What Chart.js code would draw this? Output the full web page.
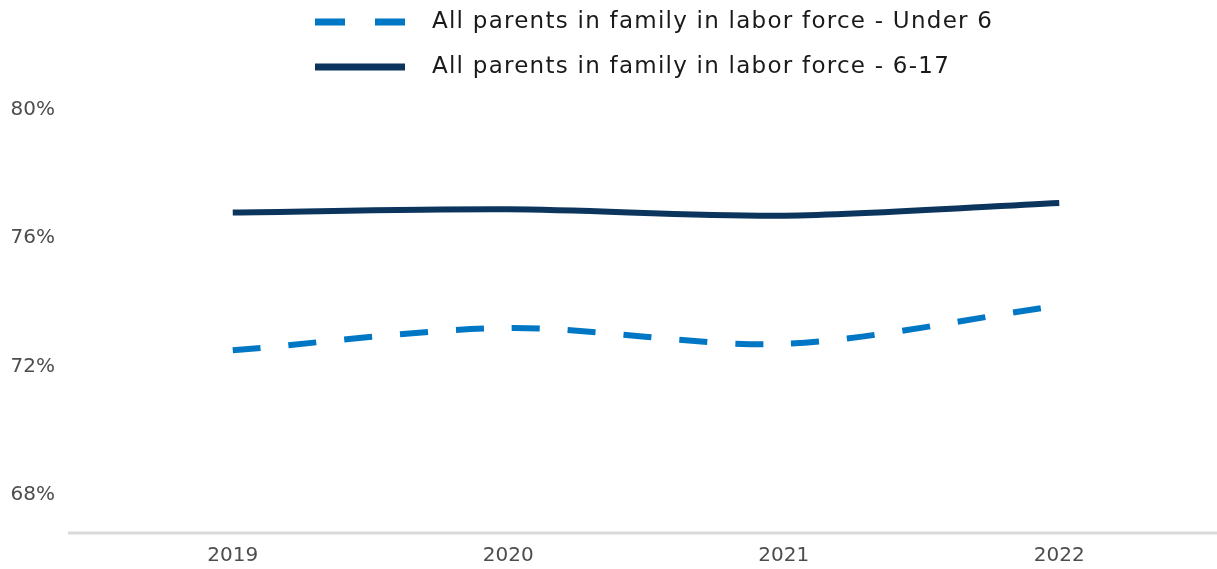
<!DOCTYPE html>
<html>
<head>
<meta charset="utf-8">
<script src="https://cdn.jsdelivr.net/npm/chart.js@4"></script>
<style>
  html, body { margin: 0; padding: 0; background: #ffffff; overflow: hidden; }
  #c { display: block; width: 1217px; height: 569px; }
</style>
</head>
<body>
<canvas id="c" width="1217" height="569"></canvas>
<script>
const categories = ["2019", "2020", "2021", "2022"];
const under6Values = [72.5, 73.2, 72.7, 73.9];
const age6to17Values = [76.8, 76.9, 76.7, 77.1];
const yTickValues = [68, 72, 76, 80];
const seriesLabels = [
  "All parents in family in labor force - Under 6",
  "All parents in family in labor force - 6-17"
];

const FONT = "'DejaVu Sans', sans-serif";

const customLegend = {
  id: "customLegend",
  afterDraw(chart) {
    const ctx = chart.ctx;
    const rows = [22, 67];
    ctx.save();
    chart.data.datasets.forEach((ds, i) => {
      const y = rows[i];
      ctx.beginPath();
      ctx.strokeStyle = ds.borderColor;
      ctx.lineWidth = 7;
      ctx.lineCap = "butt";
      ctx.setLineDash(ds.borderDash && ds.borderDash.length ? [30, 30] : []);
      ctx.moveTo(315, y);
      ctx.lineTo(405, y);
      ctx.stroke();
      ctx.setLineDash([]);
      ctx.fillStyle = "#1a1a1a";
      ctx.font = "23px " + FONT;
      if ("letterSpacing" in ctx) ctx.letterSpacing = "1.25px";
      ctx.textBaseline = "middle";
      ctx.textAlign = "left";
      ctx.fillText(ds.label, 432, y);
      if ("letterSpacing" in ctx) ctx.letterSpacing = "0px";
    });
    ctx.restore();
  }
};

const baseLine = {
  id: "baseLine",
  beforeDatasetsDraw(chart) {
    const ctx = chart.ctx;
    const y = chart.chartArea.bottom;
    ctx.save();
    ctx.beginPath();
    ctx.strokeStyle = "#d9d9d9";
    ctx.lineWidth = 3;
    ctx.moveTo(68, y);
    ctx.lineTo(chart.width, y);
    ctx.stroke();
    ctx.restore();
  }
};

new Chart(document.getElementById("c"), {
  type: "line",
  data: {
    labels: categories,
    datasets: [
      {
        label: seriesLabels[0],
        data: under6Values,
        borderColor: "#0077c4",
        borderWidth: 6,
        borderDash: [28, 28],
        pointRadius: 0,
        tension: 0.3,
        fill: false
      },
      {
        label: seriesLabels[1],
        data: age6to17Values,
        borderColor: "#0c355e",
        borderWidth: 6,
        borderDash: [],
        pointRadius: 0,
        tension: 0.3,
        fill: false
      }
    ]
  },
  options: {
    responsive: false,
    maintainAspectRatio: false,
    devicePixelRatio: 1,
    animation: false,
    layout: { padding: { top: 110, left: 8, right: 20, bottom: 0 } },
    plugins: {
      legend: { display: false },
      tooltip: { enabled: false }
    },
    scales: {
      x: {
        offset: true,
        grid: { display: false, drawTicks: false },
        border: { display: false },
        afterFit(scale) { scale.height = 36; },
        ticks: {
          padding: 11,
          color: "#4d4d4d",
          font: { family: FONT, size: 20 }
        }
      },
      y: {
        min: 66.8,
        max: 80,
        grid: { display: false, drawTicks: false },
        border: { display: false },
        afterBuildTicks(scale) {
          scale.ticks = yTickValues.map(v => ({ value: v }));
        },
        afterFit(scale) {
          scale.width = 87;
          scale.paddingTop = 0;
          scale.paddingBottom = 0;
        },
        ticks: {
          padding: 40,
          color: "#4d4d4d",
          font: { family: FONT, size: 20 },
          callback: v => v + "%"
        }
      }
    }
  },
  plugins: [customLegend, baseLine]
});
</script>
</body>
</html>
